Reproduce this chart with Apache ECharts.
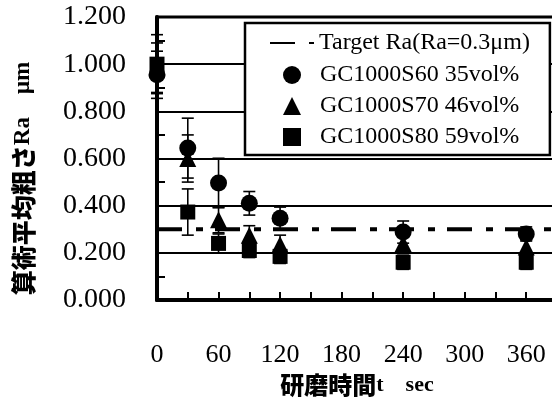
<!DOCTYPE html>
<html>
<head>
<meta charset="utf-8">
<script src="https://cdn.jsdelivr.net/npm/echarts@6/dist/echarts.min.js"></script>
<style>
  html, body { margin: 0; padding: 0; background: #fff; }
  #chart { width: 552px; height: 401px; }
</style>
</head>
<body>
<div id="chart"></div>
<script>
// 研磨時間 (sec)
const times = [0, 30, 60, 90, 120, 240, 360];
// 算術平均粗さ Ra (μm) と誤差
const s60 = [0.955, 0.644, 0.496, 0.41, 0.347, 0.288, 0.28];
const s60Err = [0.10, 0.127, 0.105, 0.05, 0.047, 0.047, 0.03];
const s70 = [0.985, 0.60, 0.34, 0.275, 0.235, 0.24, 0.225];
const s70Err = [0.105, 0.10, 0.055, 0.04, 0.04, 0.03, 0.03];
const s80 = [1.0, 0.373, 0.24, 0.21, 0.185, 0.16, 0.16];
const s80Err = [0.125, 0.098, 0.04, 0.03, 0.03, 0.03, 0.03];
const targetRa = 0.3;
const xMax = 390;

const names = ['Target Ra(Ra=0.3μm)', 'GC1000S60 35vol%', 'GC1000S70 46vol%', 'GC1000S80 59vol%'];
const serif = '"Times New Roman", "Liberation Serif", serif';
const gothic = '"Noto Sans CJK JP", sans-serif';

function points(vals){
    return times.map((t, i) => [t, vals[i]]);
}
function errRows(vals, errs){
    return times.map((t, i) => [t, vals[i] - errs[i], vals[i] + errs[i]]);
}
function errorBars(data){
    return {
        type: 'custom',
        data: data,
        z: 1,
        clip: false,
        encode: {x: 0, y: [1, 2]},
        renderItem: (params, api) => {
            const lo = api.coord([api.value(0), api.value(1)]);
            const hi = api.coord([api.value(0), api.value(2)]);
            const w = 6;
            const st = {stroke: '#000', lineWidth: 1.6};
            return {
                type: 'group',
                children: [
                    {type: 'line', shape: {x1: lo[0], y1: lo[1], x2: hi[0], y2: hi[1]}, style: st},
                    {type: 'line', shape: {x1: lo[0] - w, y1: lo[1], x2: lo[0] + w, y2: lo[1]}, style: st},
                    {type: 'line', shape: {x1: hi[0] - w, y1: hi[1], x2: hi[0] + w, y2: hi[1]}, style: st}
                ]
            };
        }
    };
}

const legendText = {fontFamily: serif, fontSize: 24, color: '#000', lineHeight: 24};

const chart = echarts.init(document.getElementById('chart'), null, {renderer: 'canvas'});
chart.setOption({
    animation: false,
    backgroundColor: '#fff',
    grid: {
        left: 157, top: 17, bottom: 101, right: -5,
        outerBoundsMode: 'none',
        containLabel: false,
        show: true, borderColor: '#000', borderWidth: 3, backgroundColor: 'transparent'
    },
    legend: [
        {
            // 枠と目標線
            orient: 'vertical',
            left: 245, top: 23,
            padding: [8, 20, 100, 24],
            backgroundColor: '#fff',
            borderColor: '#000',
            borderWidth: 2.5,
            borderRadius: 0,
            itemWidth: 44,
            itemHeight: 18,
            textStyle: legendText,
            data: [{name: names[0], itemStyle: {opacity: 0}}]
        },
        {
            orient: 'vertical',
            left: 283, top: 63,
            padding: 0,
            z: 6,
            itemWidth: 18,
            itemHeight: 18,
            itemGap: 7,
            textStyle: Object.assign({padding: [0, 0, 0, 14]}, legendText),
            data: names.slice(1)
        }
    ],
    xAxis: {
        type: 'value',
        min: 0, max: xMax, interval: 60,
        name: '{a|研磨時間}{b|t　sec}',
        nameLocation: 'middle',
        nameGap: 72,
        nameTextStyle: {
            rich: {
                a: {fontFamily: gothic, fontWeight: 900, fontSize: 24, color: '#000'},
                b: {fontFamily: serif, fontWeight: 'bold', fontSize: 22, color: '#000'}
            }
        },
        axisLine: {lineStyle: {color: '#000', width: 4}},
        axisTick: {inside: true, length: 8, lineStyle: {color: '#000', width: 2}},
        minorTick: {show: true, splitNumber: 2, length: 8, lineStyle: {color: '#000', width: 2}},
        axisLabel: {
            fontFamily: serif, fontSize: 26, color: '#000', margin: 42,
            formatter: v => v > 360 ? '' : String(v)
        },
        splitLine: {show: false}
    },
    yAxis: {
        type: 'value',
        min: 0, max: 1.2, interval: 0.2,
        name: '{a|算術平均粗さ}{b|Ra　μm}',
        nameLocation: 'middle',
        nameGap: 121,
        nameRotate: 90,
        nameTextStyle: {
            padding: [0, 40, 0, 0],
            rich: {
                a: {fontFamily: gothic, fontWeight: 900, fontSize: 25, color: '#000'},
                b: {fontFamily: serif, fontWeight: 'bold', fontSize: 23, color: '#000'}
            }
        },
        axisLine: {show: true, lineStyle: {color: '#000', width: 4}},
        axisTick: {show: true, inside: true, length: 8, lineStyle: {color: '#000', width: 2}},
        minorTick: {show: true, splitNumber: 2, length: 8, lineStyle: {color: '#000', width: 2}},
        axisLabel: {
            fontFamily: serif, fontSize: 28, color: '#000', margin: 31,
            formatter: v => v.toFixed(3)
        },
        splitLine: {show: true, lineStyle: {color: '#000', width: 2}}
    },
    series: [
        {
            name: names[0],
            type: 'line',
            data: [[0, targetRa], [xMax, targetRa]],
            symbol: 'none',
            z: 2,
            lineStyle: {color: '#000', width: 4, type: [25, 14, 7, 12]},
            itemStyle: {color: '#000'}
        },
        errorBars(errRows(s60, s60Err)),
        errorBars(errRows(s70, s70Err)),
        errorBars(errRows(s80, s80Err)),
        {
            name: names[1], type: 'scatter', data: points(s60),
            symbol: 'circle', symbolSize: 17, z: 3, clip: false,
            itemStyle: {color: '#000', opacity: 1}
        },
        {
            name: names[2], type: 'scatter', data: points(s70),
            symbol: 'triangle', symbolSize: 17, z: 3, clip: false,
            itemStyle: {color: '#000', opacity: 1}
        },
        {
            name: names[3], type: 'scatter', data: points(s80),
            symbol: 'rect', symbolSize: 15, z: 3, clip: false,
            itemStyle: {color: '#000', opacity: 1}
        }
    ]
});
</script>
</body>
</html>
